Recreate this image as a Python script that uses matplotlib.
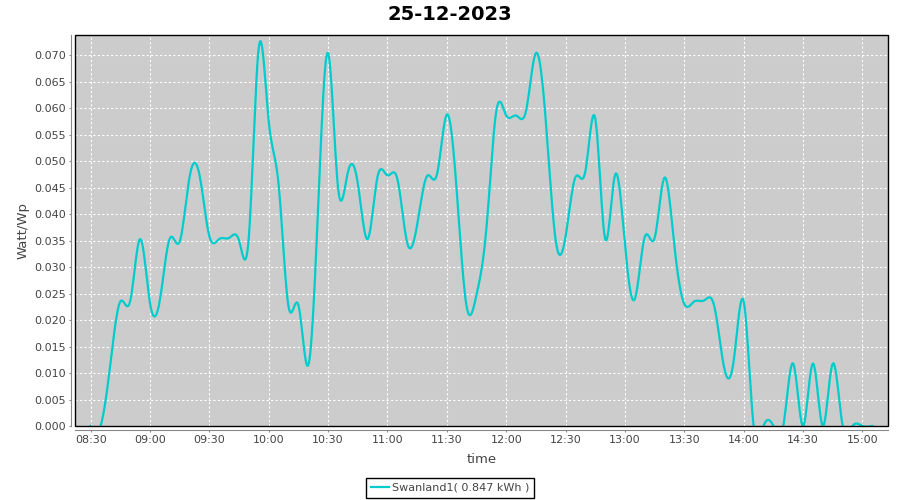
import numpy as np
import pandas as pd
import matplotlib
matplotlib.use("Agg")
import matplotlib.pyplot as plt
import matplotlib.dates as mdates
from matplotlib.patches import Rectangle

# ---- data (5-minute readings, 08:30 .. 15:05) ----
start_time = "2023-12-25 08:30"
interval_min = 5
values = [
    0.0, 0.0, 0.0118, 0.0235, 0.0236, 0.0353,            # 08:30-08:55
    0.0232, 0.0238, 0.0354, 0.0348, 0.0470, 0.0474,      # 09:00-09:25
    0.0358, 0.0353, 0.0355, 0.0350, 0.0360, 0.0716,      # 09:30-09:55
    0.0575, 0.0455, 0.0225, 0.0228, 0.0115, 0.0418,      # 10:00-10:25
    0.0704, 0.0450, 0.0479, 0.0458, 0.0353, 0.0471,      # 10:30-10:55
    0.0473, 0.0466, 0.0345, 0.0380, 0.0472, 0.0475,      # 11:00-11:25
    0.0588, 0.0443, 0.0225, 0.0248, 0.0374, 0.0595,      # 11:30-11:55
    0.0586, 0.0586, 0.0595, 0.0704, 0.0575, 0.0350,      # 12:00-12:25
    0.0358, 0.0470, 0.0481, 0.0580, 0.0353, 0.0474,      # 12:30-12:55
    0.0342, 0.0240, 0.0357, 0.0355, 0.0469, 0.0339,      # 13:00-13:25
    0.0230, 0.0235, 0.0237, 0.0228, 0.0112, 0.0125,      # 13:30-13:55
    0.0235, 0.0, 0.0, 0.0, 0.0, 0.0118,                  # 14:00-14:25
    0.0, 0.0118, 0.0, 0.0118, 0.0, 0.0,                  # 14:30-14:55
    0.0, 0.0,                                            # 15:00-15:05
]
series_name = "Swanland1( 0.847 kWh )"
title = "25-12-2023"
x_label = "time"
y_label = "Watt/Wp"
y_max = 0.0738

# ---- natural cubic spline renderer (like JFreeChart XYSplineRenderer) ----
def natural_spline(x, y, n_per=12):
    x = np.asarray(x, float); y = np.asarray(y, float)
    n = len(x)
    h = np.diff(x)
    A = np.zeros((n, n)); b = np.zeros(n)
    A[0, 0] = 1.0; A[-1, -1] = 1.0
    for i in range(1, n - 1):
        A[i, i - 1] = h[i - 1]
        A[i, i] = 2 * (h[i - 1] + h[i])
        A[i, i + 1] = h[i]
        b[i] = 6 * ((y[i + 1] - y[i]) / h[i] - (y[i] - y[i - 1]) / h[i - 1])
    M = np.linalg.solve(A, b)
    xs, ys = [], []
    for i in range(n - 1):
        t = np.linspace(x[i], x[i + 1], n_per, endpoint=False)
        hi = h[i]
        s = (M[i] * (x[i + 1] - t) ** 3 / (6 * hi) + M[i + 1] * (t - x[i]) ** 3 / (6 * hi)
             + (y[i] / hi - M[i] * hi / 6) * (x[i + 1] - t)
             + (y[i + 1] / hi - M[i + 1] * hi / 6) * (t - x[i]))
        xs.append(t); ys.append(s)
    xs.append([x[-1]]); ys.append([y[-1]])
    return np.concatenate(xs), np.concatenate(ys)

minutes = np.arange(len(values)) * interval_min
sx, sy = natural_spline(minutes, values)
t0 = mdates.date2num(pd.Timestamp(start_time))
sx_d = t0 + sx / 1440.0

# ---- figure ----
W, H = 900, 500
fig = plt.figure(figsize=(W / 100, H / 100), dpi=100)
fig.patch.set_facecolor("white")
L, R, T, B = 75, 888, 35, 426
ax = fig.add_axes([L / W, 1 - B / H, (R - L) / W, (B - T) / H])
ax.set_facecolor("#cccccc")

ax.plot(sx_d, sy, color="#00cccc", lw=1.6, zorder=3, label=series_name, solid_joinstyle="round")

span = minutes[-1] - minutes[0]
ax.set_xlim(t0 + (minutes[0] - 0.02 * span) / 1440, t0 + (minutes[-1] + 0.02 * span) / 1440)
ax.set_ylim(0, y_max)

ax.xaxis.set_major_locator(mdates.MinuteLocator(byminute=[0, 30]))
ax.xaxis.set_major_formatter(mdates.DateFormatter("%H:%M"))
ax.yaxis.set_major_locator(plt.MultipleLocator(0.005))
ax.yaxis.set_major_formatter(plt.FormatStrFormatter("%.3f"))

ax.set_axisbelow(True)
ax.grid(True, color="white", lw=0.8, linestyle=(0, (2, 2)))

for s in ["top", "right"]:
    ax.spines[s].set_visible(False)
for s in ["left", "bottom"]:
    ax.spines[s].set_position(("outward", 2.9))
    ax.spines[s].set_color("#888888")
    ax.spines[s].set_linewidth(0.8)
ax.add_patch(Rectangle((0, 0), 1, 1, transform=ax.transAxes, fill=False,
                       edgecolor="black", lw=1.0, zorder=5, clip_on=False))

ax.tick_params(axis="both", direction="out", length=1.6, width=0.8, color="#888888",
               labelcolor="#444444", labelsize=8, pad=2)

ax.set_xlabel(x_label, fontsize=9.5, color="#444444", labelpad=6)
ax.set_ylabel(y_label, fontsize=9.5, color="#444444", labelpad=3)
fig.suptitle(title, x=0.5, y=1 - 14 / H, va="center", fontsize=14, fontweight="bold", color="black")

leg = fig.legend(loc="center", bbox_to_anchor=(0.5, 1 - 488 / H), fontsize=8, fancybox=False,
                 edgecolor="black", framealpha=1, handlelength=1.6, handletextpad=0.3,
                 borderpad=0.45, borderaxespad=0)
leg.get_frame().set_linewidth(1.0)
for t in leg.get_texts():
    t.set_color("#444444")

fig.savefig("out.png", dpi=100)
